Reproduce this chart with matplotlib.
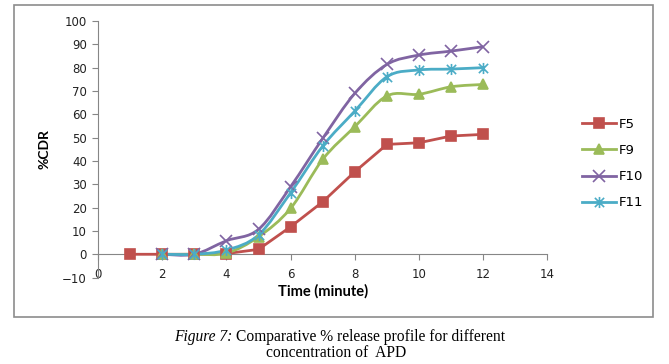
import matplotlib
matplotlib.use("Agg")
import matplotlib.pyplot as plt
import numpy as np
from matplotlib.path import Path
from matplotlib.patches import PathPatch, Rectangle
from matplotlib.lines import Line2D
from matplotlib.text import Annotation

# time in minutes and %CDR for each formulation
time_f5 = [1, 2, 3, 4, 5, 6, 7, 8, 9, 10, 11, 12]
f5 = [0, 0, 0, 0.3, 2.1, 11.8, 22.5, 35.4, 47.1, 47.8, 50.7, 51.4]

time_f = [2, 3, 4, 5, 6, 7, 8, 9, 10, 11, 12]
f9 = [0, 0, 0.5, 7.5, 19.7, 40.7, 54.7, 67.9, 68.6, 71.8, 72.8]
f10 = [0, 0, 5.8, 10.7, 29.0, 49.7, 69.0, 81.4, 85.4, 87.1, 89.0]
f11 = [0, 0, 1.8, 8.3, 26.4, 46.4, 61.4, 76.1, 79.0, 79.4, 80.0]

labels = ["F5", "F9", "F10", "F11"]
colors = ["#C0504D", "#9BBB59", "#8064A2", "#4BACC6"]

# excel "star" marker: an x with a vertical stroke through it
star = Path([(-1, -1), (1, 1), (-1, 1), (1, -1), (0, -1.2), (0, 1.2)],
            [Path.MOVETO, Path.LINETO] * 3)
markers = ["s", "^", "x", star]
sizes = [7, 7, 8, 8]


def smooth_path(x, y):
    # excel style smoothed line: cubic bezier segments through the points
    pts = np.column_stack([x, y]).astype(float)
    n = len(pts)
    verts = [pts[0]]
    codes = [Path.MOVETO]
    for i in range(n - 1):
        p0 = pts[i - 1] if i > 0 else pts[i]
        p1 = pts[i]
        p2 = pts[i + 1]
        p3 = pts[i + 2] if i + 2 < n else pts[i + 1]
        verts += [p1 + (p2 - p0) / 6, p2 - (p3 - p1) / 6, p2]
        codes += [Path.CURVE4] * 3
    return Path(verts, codes)


fig = plt.figure(figsize=(6.69, 3.64), dpi=100)
fig.patches.append(Rectangle((14 / 669, 1 - 317 / 364), 639 / 669, 312 / 364,
                             transform=fig.transFigure, fill=False,
                             edgecolor="#8c8c8c", linewidth=1.2))

ax = fig.add_axes([98 / 669, 1 - 277.6 / 364, 449.5 / 669, 256.6 / 364])

series = [(time_f5, f5), (time_f, f9), (time_f, f10), (time_f, f11)]
handles = []
for (xs, ys), lab, col, mk, ms in zip(series, labels, colors, markers, sizes):
    if lab == "F5":
        ax.plot(xs, ys, color=col, linewidth=2, zorder=3)
    else:
        ax.add_patch(PathPatch(smooth_path(xs, ys), fill=False, edgecolor=col,
                               linewidth=2, zorder=3))
    ax.plot(xs, ys, linestyle="none", marker=mk, markersize=ms, color=col,
            markeredgecolor=col, markeredgewidth=1.2, zorder=4)
    handles.append(Line2D([], [], color=col, linewidth=2, marker=mk,
                          markersize=ms, markeredgewidth=1.2))

ax.set_xlim(0, 14)
ax.set_ylim(-10, 100)
ax.set_xticks(range(0, 15, 2))
ax.set_yticks(range(-10, 101, 10))

for s in ["top", "right"]:
    ax.spines[s].set_visible(False)
ax.spines["bottom"].set_position(("data", 0))
ax.spines["left"].set_position(("data", 0))
ax.spines["bottom"].set_color("#868686")
ax.spines["left"].set_color("#868686")
ax.tick_params(axis="both", colors="#868686", labelcolor="#222222",
               labelsize=8.5, length=4, width=0.8)
ax.tick_params(axis="x", pad=6)
ax.tick_params(axis="y", pad=4)
for t in ax.get_xticklabels() + ax.get_yticklabels():
    t.set_family("DejaVu Sans")

ax.set_xlabel("Time (minute)", fontsize=10.5, fontweight="bold", family="Lato",
              va="center")
ax.xaxis.set_label_coords(0.5, -(291 - 277.6) / 256.6)
ax.set_ylabel("%CDR", fontsize=10, fontweight="bold", family="Lato")
ax.yaxis.set_label_coords(-0.105, 0.5)

fig.legend(handles, labels, loc="upper left", bbox_to_anchor=(570 / 669, 1 - 106 / 364),
           frameon=False, handlelength=2.6, handletextpad=0.2, labelspacing=1.0,
           prop={"family": "DejaVu Sans", "size": 9.5})

cap1 = fig.text(174 / 669, 1 - 337 / 364, "Figure 7:", family="Liberation Serif",
                style="italic", fontsize=11.2, va="center", ha="left")
fig.add_artist(Annotation("Comparative % release profile for different",
                          xy=(1, 0.5), xycoords=cap1, xytext=(3, 0),
                          textcoords="offset points", va="center", ha="left",
                          family="Liberation Serif", fontsize=11.2))
fig.text(336 / 669, 1 - 353 / 364, "concentration of  APD",
         family="Liberation Serif", fontsize=11.2, va="center", ha="center")

fig.savefig("out.png", dpi=100)
